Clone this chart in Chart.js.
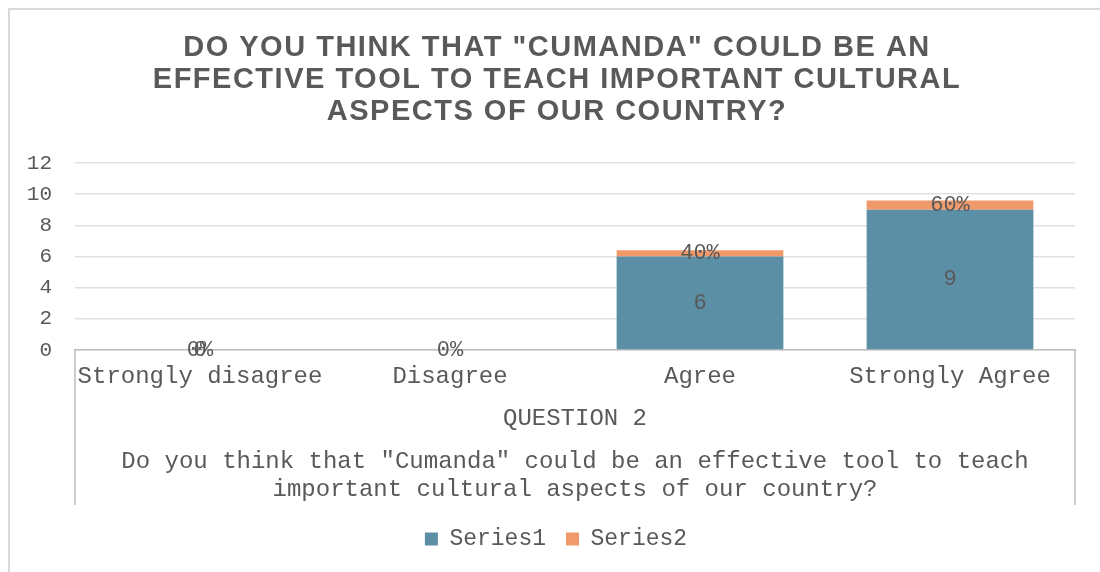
<!DOCTYPE html>
<html lang="en">

<head>
    <meta charset="UTF-8">
    <title>Question 2</title>
    <style>
        body { margin: 0; background: #fff; }
        #wrap { width: 1100px; height: 572px; }
    </style>
</head>

<body>
    <div id="wrap">
        <canvas id="myChart" width="1100" height="572"></canvas>
    </div>

    <script src="https://cdn.jsdelivr.net/npm/chart.js"></script>

    <script>
        // data
        let v_labels = ['Strongly disagree', 'Disagree', 'Agree', 'Strongly Agree'];
        let v_series1 = [0, null, 6, 9];
        let v_series2 = [0, 0, 0.4, 0.6];
        let v_yTicks = [0, 2, 4, 6, 8, 10, 12];

        let v_title = ['DO YOU THINK THAT "CUMANDA" COULD BE AN',
            'EFFECTIVE TOOL TO TEACH IMPORTANT CULTURAL',
            'ASPECTS OF OUR COUNTRY?'];
        let v_axisTitle = 'QUESTION 2';
        let v_question = ['Do you think that "Cumanda" could be an effective tool to teach',
            'important cultural aspects of our country?'];

        let v_mono = '"Liberation Mono", "Courier New", monospace';
        let v_grey = '#595959';

        // frame, spaced-out title, bracket lines under the axis, question text and value labels
        let v_extras = {
            id: 'extras',
            afterLayout(chart) {
                // let the y tick labels use the left margin (labels are clipped to the scale box)
                chart.scales.y.left = 0;
            },
            beforeDraw(chart) {
                let ctx = chart.ctx;
                ctx.save();
                ctx.strokeStyle = '#d9d9d9';
                ctx.lineWidth = 2;
                ctx.strokeRect(9, 9, chart.width + 20, chart.height + 20);

                // title drawn here because it needs letter spacing
                ctx.fillStyle = v_grey;
                ctx.textAlign = 'center';
                ctx.textBaseline = 'middle';
                ctx.font = 'bold 29px "Liberation Sans", Arial, sans-serif';
                ctx.letterSpacing = '1.5px';
                for (let i = 0; i < v_title.length; i++) {
                    ctx.fillText(v_title[i], 557, 48 + i * 32);
                }
                ctx.restore();
            },
            afterDraw(chart) {
                let ctx = chart.ctx;
                let area = chart.chartArea;
                ctx.save();

                ctx.strokeStyle = '#bfbfbf';
                ctx.lineWidth = 1.5;
                ctx.beginPath();
                ctx.moveTo(area.left, area.bottom);
                ctx.lineTo(area.left, area.bottom + 155);
                ctx.moveTo(area.right, area.bottom);
                ctx.lineTo(area.right, area.bottom + 155);
                ctx.stroke();

                ctx.fillStyle = v_grey;
                ctx.textAlign = 'center';
                ctx.textBaseline = 'middle';
                ctx.font = '24px ' + v_mono;
                for (let i = 0; i < v_question.length; i++) {
                    ctx.fillText(v_question[i], (area.left + area.right) / 2, area.bottom + 112 + i * 28);
                }

                // value labels in the middle of each segment
                ctx.font = '22px ' + v_mono;
                chart.data.datasets.forEach((ds, d) => {
                    let meta = chart.getDatasetMeta(d);
                    meta.data.forEach((bar, i) => {
                        let v = ds.data[i];
                        if (v === null) return;
                        let txt = d === 0 ? String(v) : Math.round(v * 100) + '%';
                        ctx.fillText(txt, bar.x, (bar.y + bar.base) / 2);
                    });
                });
                ctx.restore();
            }
        };

        let ctx = document.getElementById('myChart');
        new Chart(ctx, {
            type: 'bar',
            data: {
                labels: v_labels,
                datasets: [{
                    label: 'Series1',
                    data: v_series1,
                    backgroundColor: '#5b8fa6'
                }, {
                    label: 'Series2',
                    data: v_series2,
                    backgroundColor: '#f0996b'
                }]
            },
            options: {
                responsive: false,
                animation: false,
                layout: {
                    padding: { left: 37, right: 25, top: 163, bottom: 11.5 }
                },
                datasets: {
                    bar: { categoryPercentage: 1, barPercentage: 0.667 }
                },
                scales: {
                    x: {
                        stacked: true,
                        grid: { display: false, drawTicks: false },
                        border: { display: true, color: '#bfbfbf', width: 1.5 },
                        ticks: {
                            color: v_grey,
                            padding: 12,
                            maxRotation: 0,
                            font: { family: v_mono, size: 24 }
                        },
                        title: {
                            display: true,
                            text: v_axisTitle,
                            color: v_grey,
                            font: { family: v_mono, size: 24 },
                            padding: { top: 14, bottom: 74 }
                        },
                        afterFit(scale) { scale.height = 157.5; }
                    },
                    y: {
                        stacked: true,
                        min: 0,
                        max: 12,
                        z: 1,
                        afterBuildTicks(scale) {
                            scale.ticks = v_yTicks.map(v => ({ value: v }));
                        },
                        grid: { color: 'rgba(0,0,0,0.12)', lineWidth: 1.5, drawTicks: false },
                        border: { display: false },
                        ticks: {
                            color: v_grey,
                            padding: 23,
                            font: { family: v_mono, size: 21 }
                        },
                        afterFit(scale) { scale.width = 38; }
                    }
                },
                plugins: {
                    title: { display: false },
                    legend: {
                        position: 'bottom',
                        labels: {
                            color: v_grey,
                            boxWidth: 13,
                            boxHeight: 13,
                            padding: 20,
                            font: { family: v_mono, size: 23 }
                        }
                    },
                    tooltip: { enabled: false }
                }
            },
            plugins: [v_extras]
        });
    </script>
</body>

</html>
